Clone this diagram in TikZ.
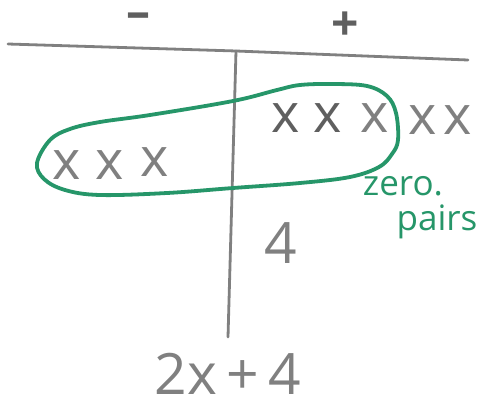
\documentclass[tikz,border=0pt]{standalone}
\usepackage{fontspec}
\setmainfont{Open Sans}
\definecolor{pencil}{RGB}{128,128,128}
\definecolor{darkpencil}{RGB}{95,95,95}
\definecolor{marker}{RGB}{38,150,105}
\begin{document}
\begin{tikzpicture}[x=1pt,y=-1pt,
  axis/.style={draw=pencil,line width=2.8pt,line cap=round},
  loop/.style={draw=marker,line width=3.8pt},
  var/.style={text=pencil,font=\fontsize{54}{54}\selectfont,inner sep=0pt},
  big/.style={text=pencil,font=\fontsize{57}{57}\selectfont,inner sep=0pt},
  sign/.style={text=darkpencil,font=\bfseries\fontsize{48}{48}\selectfont,inner sep=0pt},
  note/.style={text=marker,font=\fontsize{35}{35}\selectfont,inner sep=0pt}]
\useasboundingbox (0,0) rectangle (481,404);
\fill[white] (0,0) rectangle (481,404);
% axes
\coordinate (hl) at (8,44);
\coordinate (hm) at (236,51);
\coordinate (hr) at (468,60);
\coordinate (vb) at (228,337);
\draw[axis] (hl) -- (hm) -- (hr);
\draw[axis] (hm) -- (vb);
% headings
\node[sign] (minus) at (138,21) {–};
\node[sign] (plus) at (345,26) {+};
% positive x's
\node[var,text=darkpencil] (p1) at (286,118) {x};
\node[var,text=darkpencil] (p2) at (328,118) {x};
\node[var] (p3) at (375,118) {x};
\node[var] (p4) at (423,120) {x};
\node[var] (p5) at (458,120) {x};
% negative x's
\node[var] (n1) at (67,165) {x};
\node[var] (n2) at (110,165) {x};
\node[var] (n3) at (155,162) {x};
% constant
\node[big] (four) at (281,243) {4};
\node[big] (expr) at (228,374) {2x\,+\,4};
% zero pairs loop
\draw[loop] plot[smooth cycle,tension=0.6] coordinates {
  (37,163) (50,140) (70,129) (100,122) (150,115) (233,101) (277,90)
  (300,85) (333,84) (367,86) (387,96) (396,113) (398,140) (392,154)
  (379,167) (350,177) (300,183) (233,188) (167,193) (100,195) (65,190) (44,179)};
\node[note] (zero) at (403,186) {zero.};
\node[note] (pairs) at (437,222) {pairs};
\end{tikzpicture}
\end{document}
